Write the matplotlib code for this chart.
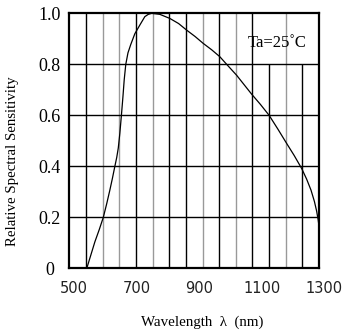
import numpy as np
import matplotlib
matplotlib.use("Agg")
import matplotlib.pyplot as plt
from matplotlib.transforms import ScaledTranslation

# curve points
wavelength = [556, 569, 582, 596, 609, 620, 630, 638, 646, 652, 657, 662, 667,
              672, 676, 681, 688, 697, 710, 726, 742, 753, 764, 790, 822, 850,
              876, 903, 929, 956, 982, 1004, 1036, 1060, 1084, 1112, 1140,
              1168, 1196, 1220, 1244, 1260, 1274, 1285, 1292, 1297, 1300]
sensitivity = [0.0, 0.052, 0.104, 0.152, 0.2, 0.254, 0.307, 0.352, 0.4, 0.435,
               0.472, 0.53, 0.6, 0.675, 0.74, 0.8, 0.845, 0.878, 0.92, 0.954,
               0.987, 0.996, 1.0, 0.996, 0.98, 0.96, 0.934, 0.909, 0.882, 0.857,
               0.83, 0.8, 0.757, 0.72, 0.683, 0.643, 0.6, 0.546, 0.49, 0.443,
               0.392, 0.35, 0.307, 0.262, 0.225, 0.19, 0.163]

x_ticks = [500, 700, 900, 1100, 1300]
y_ticks = [0, 0.2, 0.4, 0.6, 0.8, 1.0]
y_tick_labels = ["0", "0.2", "0.4", "0.6", "0.8", "1.0"]

# the vertical grid lines in the picture come out black or grey
grid_x = np.linspace(500, 1300, 16)[1:-1]
grid_col = ["k", "#999999", "#999999", "k", "#999999", "k", "k", "#999999",
            "k", "#999999", "k", "k", "#999999", "k"]
grid_top = [1, 1, 1, 1, 1, 1, 1, 1, 1, 1, 1, 0.8, 1, 0.8]

fig = plt.figure(figsize=(3.48, 3.33), dpi=100)
ax = fig.add_axes([0.199, 0.194, 0.718, 0.766])

for gx, c, top in zip(grid_x, grid_col, grid_top):
    ax.vlines(gx, 0, top, color=c, lw=1.0, zorder=1)
for gy in y_ticks[1:-1]:
    ax.axhline(gy, color="k", lw=1.0, zorder=1)

ax.plot(wavelength, sensitivity, color="k", lw=0.9, zorder=3)

ax.set_xlim(500, 1300)
ax.set_ylim(0, 1.0)
ax.set_xticks(x_ticks)
ax.set_xticklabels([str(v) for v in x_ticks], fontfamily="DejaVu Sans",
                   fontsize=10.5, color="#222222")
ax.set_yticks(y_ticks)
ax.set_yticklabels(y_tick_labels, fontfamily="Liberation Serif", fontsize=13,
                   ha="center")
ax.tick_params(axis="x", length=0, pad=9)
ax.tick_params(axis="y", length=0, pad=14)

# labels in the picture sit a little to the right of the grid
shift = ScaledTranslation(5 / 100, 0, fig.dpi_scale_trans)
for lab in ax.get_xticklabels():
    lab.set_transform(lab.get_transform() + shift)

for s in ax.spines.values():
    s.set_linewidth(1.6)

ax.text(1072, 0.883, "Ta=25˚C", fontfamily="Liberation Serif", fontsize=12,
        va="center")

fig.text(0.037, 1 - 161 / 333, "Relative Spectral Sensitivity", rotation=90,
         fontfamily="Liberation Serif", fontsize=10.7, ha="center", va="center")
fig.text(202 / 348, 1 - 322 / 333, "Wavelength  λ  (nm)",
         fontfamily="Liberation Serif", fontsize=10.8, ha="center", va="center")

fig.savefig("out.png", dpi=100)
